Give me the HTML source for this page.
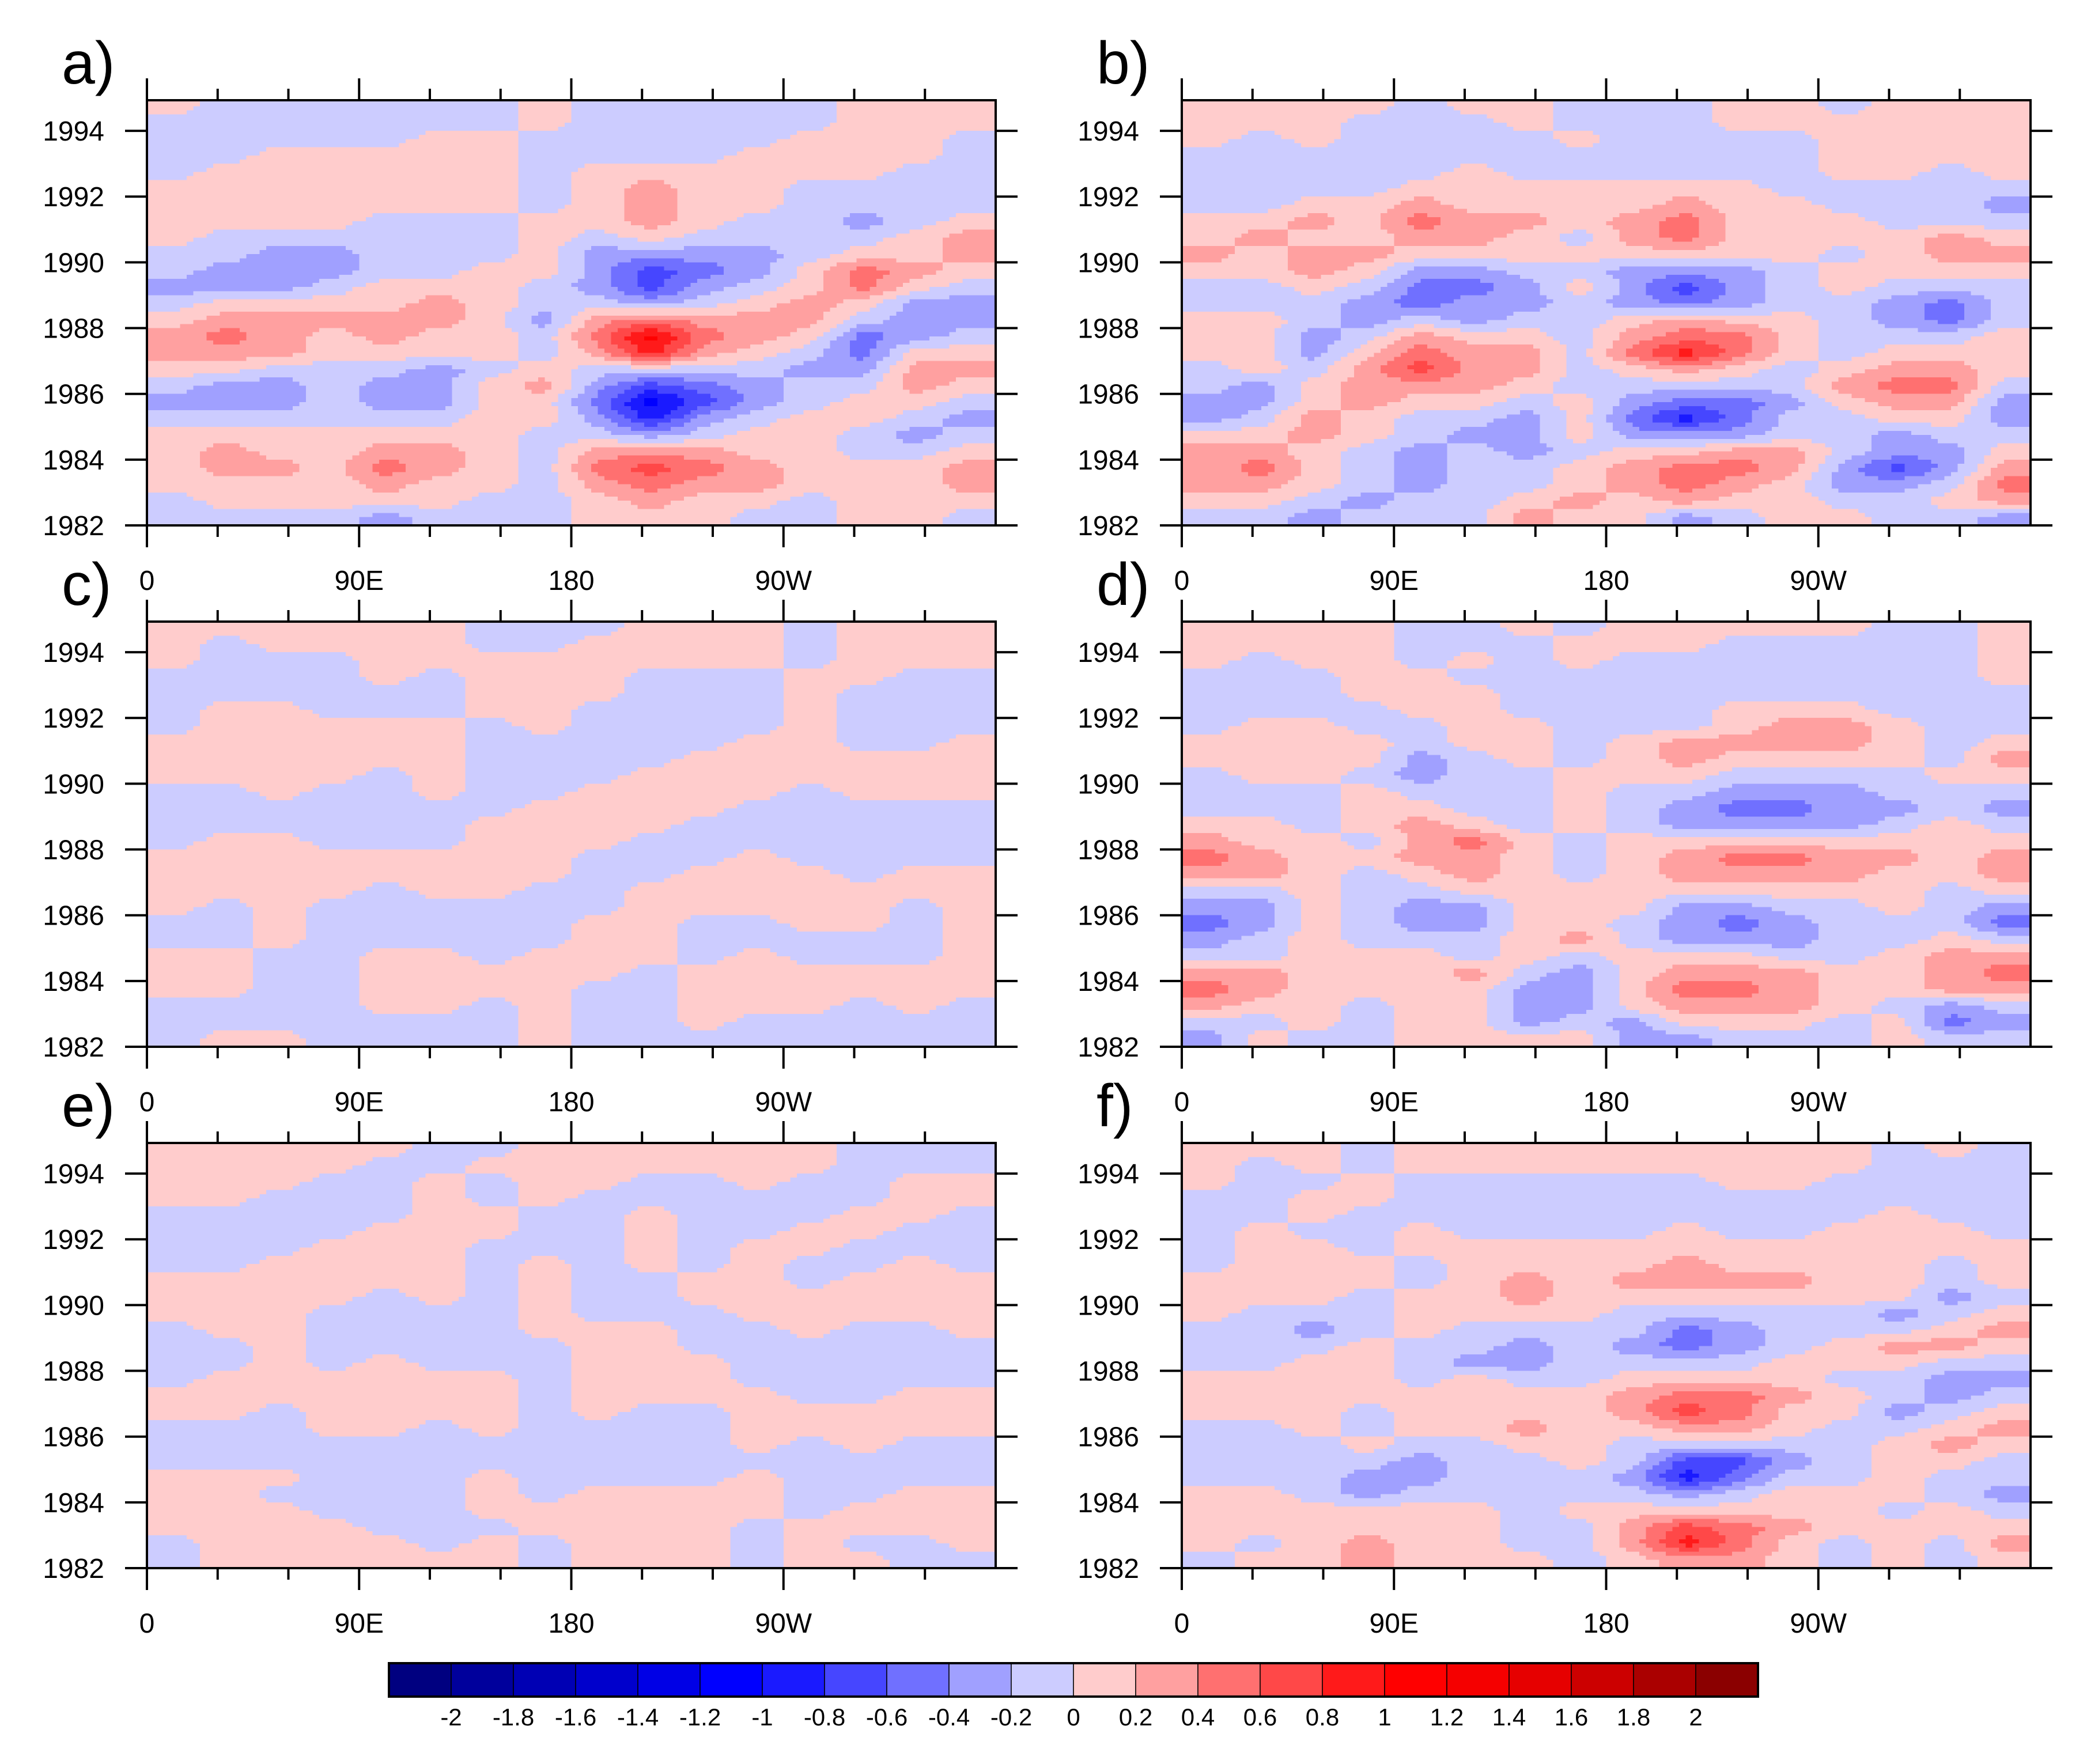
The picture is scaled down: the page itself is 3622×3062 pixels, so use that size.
<!DOCTYPE html>
<html><head><meta charset="utf-8"><style>
html,body{margin:0;padding:0;background:#fff}
svg{display:block}
text{font-family:"Liberation Sans",Arial,sans-serif;fill:#000}
</style></head><body>
<svg id="fig" width="3622" height="3062" viewBox="0 0 3622 3062" xmlns="http://www.w3.org/2000/svg">
<rect width="3622" height="3062" fill="#fff"/>
</svg>
<script>
// ---- data (values in tenths; e.g. 3 = 0.3) rows top (1994.75) -> bottom (1982.25), cols 0..360 lon in 22.5 deg bins
const lonTicks=[0,90,180,270];
const lonLabels=['0','90E','180','90W'];
const yearTicks=[1982,1984,1986,1988,1990,1992,1994];
const cbLabels=['-2','-1.8','-1.6','-1.4','-1.2','-1','-0.8','-0.6','-0.4','-0.2','0','0.2','0.4','0.6','0.8','1','1.2','1.4','1.6','1.8','2'];
const posColors=['#ffcccc','#ffa0a0','#ff7070','#ff4848','#ff1a1a','#ff0000','#f50000','#e60000','#cc0000','#aa0000','#8b0000'];
const negColors=['#ccccff','#a0a0ff','#7070ff','#4646ff','#1a1aff','#0000ff','#0000e6','#0000cc','#0000b4','#00009c','#000080'];
const aValues=[
[1,-1,-1,-1,-1,-1,-1,1,-1,-1,-1,-1,-1,1,1,1],
[-1,-1,-1,-1,-1,-1,-1,1,-1,-1,-1,-1,-1,1,1,1],
[-1,-1,-1,-1,-1,1,1,-1,-1,-1,-1,-1,1,1,1,-1],
[-1,-1,1,1,1,1,1,-1,-1,-1,-1,1,1,1,1,-1],
[-1,1,1,1,1,1,1,-1,1,1,1,1,1,1,-1,-1],
[1,1,1,1,1,1,1,-1,1,3,1,1,-1,-1,-1,-1],
[1,1,1,1,1,1,1,-1,1,3,1,1,-1,-1,-1,-1],
[1,1,1,1,-1,-1,-1,1,1,3,1,-1,-1,-3,-1,1],
[1,-1,-1,-1,-1,-1,-1,1,-1,1,-1,-1,-1,-1,1,3],
[-1,-1,-3,-3,-1,-1,-1,1,-3,-3,-3,-3,-1,1,1,3],
[-1,-3,-3,-3,-1,-1,1,1,-3,-7,-5,-3,1,5,3,1],
[-3,-3,-3,-1,1,1,1,-1,-3,-7,-3,-1,1,5,1,-1],
[-1,1,1,1,1,3,1,-1,-1,-3,-1,1,3,1,-3,-3],
[1,3,3,3,3,3,1,-3,3,5,3,3,3,-1,-3,-3],
[3,5,3,1,3,1,1,-1,5,11,5,3,1,-5,-3,-1],
[3,3,3,1,1,1,1,-1,3,9,3,1,-1,-5,1,1],
[1,1,-1,-1,-1,-3,-1,1,-1,-1,-1,-1,-3,-3,3,3],
[-1,-3,-3,-1,-3,-3,1,3,-3,-7,-5,-3,-1,-1,3,1],
[-3,-3,-3,-1,-3,-3,1,1,-5,-11,-7,-3,-1,1,1,-1],
[-1,-1,-1,-1,-1,-1,1,1,-3,-9,-3,-1,1,1,-1,-3],
[1,1,1,1,1,1,1,-1,-1,-3,-1,1,1,-1,-3,-1],
[1,3,1,1,3,3,1,-1,3,3,3,1,1,-1,-1,1],
[1,3,3,1,5,3,1,-1,5,7,5,3,1,1,1,3],
[1,1,1,1,3,1,1,-1,3,5,3,3,1,1,1,3],
[-1,1,1,1,1,1,-1,-1,1,3,1,1,-1,1,1,1],
[-1,-1,-1,-1,-3,-1,-1,-1,1,1,1,-1,-1,1,1,-1]];
const bValues=[
[1,1,1,1,-1,1,1,-1,-1,-1,1,1,-1,1,1,1],
[1,1,1,-1,-1,-1,1,-1,-1,-1,1,1,1,1,1,1],
[1,-1,1,-1,-1,-1,-1,1,-1,-1,-1,-1,1,1,1,1],
[-1,-1,-1,-1,-1,-1,-1,-1,-1,-1,-1,-1,1,1,1,1],
[-1,-1,-1,-1,-1,1,-1,-1,-1,-1,-1,-1,1,1,-1,1],
[-1,-1,-1,-1,1,1,1,1,1,1,1,-1,-1,-1,-1,-1],
[-1,-1,1,1,3,1,1,1,1,3,1,1,-1,-1,-1,-3],
[1,1,3,1,5,3,3,1,3,5,1,1,1,-1,-1,-1],
[1,3,1,1,3,3,1,-1,3,5,1,1,1,1,3,1],
[3,1,3,3,1,1,1,1,1,1,1,1,-1,1,3,3],
[1,1,3,1,-3,-3,-1,-1,-3,-3,-3,-1,1,1,1,1],
[-1,-1,1,-1,-5,-5,-3,1,-3,-7,-3,-1,1,-1,-1,-1],
[-1,-1,-1,-3,-5,-3,-3,-1,-3,-5,-3,-1,-1,-3,-5,-1],
[1,1,-1,-3,-1,-3,-1,-1,1,3,1,1,-1,-3,-5,-1],
[1,1,-3,-1,3,1,1,-1,3,5,5,1,-1,-1,-1,1],
[1,1,-3,1,5,3,3,-1,5,9,5,1,-1,1,1,1],
[-1,1,-1,3,7,3,3,-1,1,3,1,-1,1,3,3,1],
[-1,-3,1,3,3,3,1,-1,-1,-1,-1,-1,3,5,5,-1],
[-3,-3,1,3,1,1,-1,1,-3,-5,-5,-3,1,3,3,-3],
[-3,-1,3,1,-1,-1,-3,1,-5,-9,-5,-1,-1,1,1,-3],
[1,1,3,1,-1,-3,-3,1,-3,-3,-3,-1,-1,-3,-1,-1],
[3,3,1,-1,-3,-1,-3,-1,1,1,3,3,-1,-3,-3,1],
[3,5,1,-1,-3,-1,-1,1,3,5,5,3,-3,-7,-3,3],
[3,3,1,-1,-3,-1,-1,1,3,5,3,1,-3,-3,-1,5],
[1,1,-1,-3,-1,-1,1,3,1,3,1,1,-1,-1,1,3],
[-1,-1,-3,-1,-1,-1,3,1,1,-3,-1,1,1,-1,-1,-3]];
const cValues=[
[1,1,1,1,1,1,-1,-1,-1,1,1,1,-1,1,1,1],
[1,-1,1,1,1,1,-1,-1,1,1,1,1,-1,1,1,1],
[1,-1,-1,-1,1,1,1,1,1,1,1,1,-1,1,1,1],
[-1,-1,-1,-1,1,-1,1,1,1,-1,-1,-1,1,1,-1,-1],
[-1,-1,-1,-1,-1,-1,1,1,1,-1,-1,-1,1,-1,-1,-1],
[-1,1,1,-1,-1,-1,1,1,-1,-1,-1,-1,1,-1,-1,-1],
[-1,1,1,1,1,1,-1,1,-1,-1,-1,-1,1,-1,-1,-1],
[1,1,1,1,1,1,-1,-1,-1,-1,-1,1,1,-1,-1,1],
[1,1,1,1,1,1,-1,-1,-1,-1,1,1,1,1,1,1],
[1,1,1,1,-1,1,-1,-1,-1,1,1,1,1,1,1,1],
[-1,-1,1,-1,-1,1,-1,-1,1,1,1,1,-1,1,1,1],
[-1,-1,-1,-1,-1,-1,-1,1,1,1,1,-1,-1,-1,-1,-1],
[-1,-1,-1,-1,-1,-1,1,1,1,1,-1,-1,-1,-1,-1,-1],
[-1,1,1,-1,-1,-1,1,1,1,-1,-1,-1,-1,-1,-1,-1],
[1,1,1,1,1,1,1,1,-1,-1,-1,1,-1,-1,-1,-1],
[1,1,1,1,1,1,1,1,-1,-1,1,1,1,-1,1,1],
[1,1,1,1,-1,1,1,-1,-1,1,1,1,1,1,1,1],
[1,-1,1,-1,-1,-1,-1,-1,-1,1,1,1,1,1,-1,1],
[-1,-1,1,-1,-1,-1,-1,-1,1,1,-1,-1,1,1,-1,1],
[-1,-1,1,-1,-1,-1,-1,-1,1,1,-1,-1,-1,-1,-1,1],
[1,1,-1,-1,1,1,-1,1,1,1,-1,1,-1,-1,-1,1],
[1,1,-1,-1,1,1,1,1,1,-1,1,1,1,1,1,1],
[1,1,-1,-1,1,1,1,1,-1,-1,1,1,1,1,1,1],
[-1,-1,-1,-1,1,1,-1,1,-1,-1,1,1,1,-1,1,-1],
[-1,-1,-1,-1,-1,-1,-1,1,-1,-1,1,-1,-1,-1,-1,-1],
[-1,1,1,-1,-1,-1,-1,1,-1,-1,-1,-1,-1,-1,-1,-1]];
const dValues=[
[1,1,1,1,-1,-1,1,-1,1,1,1,1,1,-1,-1,1],
[1,1,1,1,-1,-1,-1,1,1,1,-1,-1,-1,-1,-1,1],
[1,-1,1,1,-1,1,-1,1,-1,-1,-1,-1,-1,-1,-1,1],
[-1,-1,-1,1,1,-1,-1,-1,-1,-1,-1,-1,-1,-1,-1,1],
[-1,-1,-1,1,1,1,-1,-1,-1,-1,-1,-1,-1,-1,-1,-1],
[-1,-1,-1,-1,1,1,-1,-1,-1,-1,1,1,1,-1,-1,-1],
[-1,1,1,-1,-1,1,1,-1,-1,-1,1,3,3,1,-1,-1],
[1,1,1,1,-1,1,1,-1,1,3,3,3,3,1,-1,1],
[1,1,1,1,-3,-1,1,-1,1,3,1,1,1,1,-1,3],
[-1,1,1,-1,-3,-1,-1,1,1,1,-1,-1,-1,-1,1,1],
[-1,-1,-1,1,-1,-1,-1,1,-1,-1,-3,-3,-3,-1,-1,-1],
[-1,-1,-1,1,1,-1,-1,1,-1,-3,-5,-5,-3,-3,-1,-3],
[1,1,-1,1,3,1,-1,1,-1,-3,-3,-3,-3,-1,1,-1],
[3,1,1,-1,3,5,1,-1,1,1,1,1,1,1,1,1],
[5,3,1,1,3,3,1,-1,1,3,5,5,3,3,1,3],
[3,3,1,-1,1,3,1,-1,1,3,3,3,3,1,1,3],
[-1,-1,1,-1,-1,1,1,1,1,1,1,1,1,1,-1,1],
[-3,-3,1,-1,-3,-3,1,1,1,-3,-3,-1,-1,1,-1,-3],
[-5,-3,1,-1,-3,-3,1,1,-1,-3,-5,-3,-1,-1,-1,-5],
[-3,-1,1,-1,-1,-1,1,3,-1,-3,-3,-3,-1,-1,1,-1],
[-1,-1,1,1,1,-1,1,-1,1,1,1,-1,-1,1,3,3],
[3,3,1,1,1,3,-1,-3,1,3,3,3,1,1,3,5],
[5,3,1,1,1,1,-3,-3,1,5,5,3,1,1,3,3],
[3,1,1,-1,1,1,-3,-3,1,3,3,3,1,-1,-3,-1],
[-1,-1,1,-1,1,1,-3,-1,-3,1,1,1,-1,1,-5,-3],
[-3,1,-1,-1,1,1,1,1,-3,-3,-1,-1,-1,1,-1,-1]];
const eValues=[
[1,1,1,1,1,-1,-1,1,1,1,1,1,1,-1,-1,-1],
[1,1,1,1,-1,-1,1,1,1,1,1,1,1,-1,-1,-1],
[1,1,1,-1,-1,1,-1,1,1,-1,-1,1,-1,-1,1,1],
[1,1,-1,-1,-1,1,-1,1,-1,-1,-1,-1,-1,-1,1,1],
[-1,-1,-1,-1,-1,1,1,-1,-1,1,-1,-1,-1,1,1,-1],
[-1,-1,-1,-1,1,1,1,-1,-1,1,-1,-1,1,1,-1,-1],
[-1,-1,-1,1,1,1,-1,-1,-1,1,-1,1,1,-1,-1,-1],
[-1,-1,1,1,1,1,-1,1,-1,1,-1,1,-1,-1,1,-1],
[1,1,1,1,1,1,-1,1,-1,-1,1,1,-1,1,1,1],
[1,1,1,1,-1,1,-1,1,-1,-1,1,1,1,1,1,1],
[1,1,1,-1,-1,-1,-1,1,-1,-1,-1,1,1,1,1,1],
[-1,1,1,-1,-1,-1,-1,1,1,1,-1,-1,1,-1,-1,1],
[-1,-1,1,-1,-1,-1,-1,-1,1,1,-1,-1,-1,-1,-1,-1],
[-1,-1,1,-1,1,-1,-1,-1,1,1,1,-1,-1,-1,-1,-1],
[-1,1,1,1,1,1,1,-1,1,1,1,-1,-1,-1,-1,-1],
[1,1,1,1,1,1,1,-1,1,1,1,1,-1,-1,1,1],
[1,1,-1,1,1,1,1,-1,1,-1,-1,1,1,1,1,1],
[-1,-1,-1,1,1,-1,1,-1,-1,-1,-1,1,1,1,1,1],
[-1,-1,-1,-1,-1,-1,-1,-1,-1,-1,-1,1,-1,1,-1,-1],
[-1,-1,-1,-1,-1,-1,-1,-1,-1,-1,-1,-1,-1,-1,-1,-1],
[1,1,1,-1,-1,-1,1,-1,-1,-1,-1,1,-1,-1,-1,-1],
[1,1,-1,-1,-1,-1,1,-1,1,1,1,1,-1,-1,1,1],
[1,1,1,-1,-1,-1,1,1,1,1,1,1,-1,1,1,1],
[1,1,1,1,-1,-1,-1,1,1,1,1,-1,1,1,1,1],
[-1,1,1,1,1,-1,1,-1,1,1,1,-1,1,-1,-1,1],
[-1,1,1,1,1,1,1,-1,1,1,1,-1,1,1,-1,-1]];
const fValues=[
[1,1,1,-1,1,1,1,1,1,1,1,1,1,-1,1,-1],
[1,-1,1,-1,1,1,1,1,1,1,1,1,1,-1,-1,-1],
[1,-1,-1,1,-1,-1,-1,-1,-1,-1,1,1,-1,-1,-1,-1],
[-1,-1,1,1,-1,-1,-1,-1,-1,-1,-1,-1,-1,-1,-1,-1],
[-1,-1,1,-1,-1,-1,-1,-1,-1,-1,-1,-1,-1,1,-1,-1],
[-1,1,-1,-1,1,-1,-1,-1,-1,1,-1,-1,1,1,1,-1],
[-1,1,1,-1,1,1,1,1,1,1,1,1,1,1,1,1],
[-1,1,1,1,-1,1,1,1,1,3,1,1,1,1,-1,1],
[1,1,1,1,-1,1,3,1,3,3,3,3,1,1,-1,1],
[1,1,1,-1,1,1,3,1,1,1,1,1,1,1,-3,-1],
[1,-1,-1,-1,1,1,1,1,-1,-1,-1,-1,-1,-3,-1,1],
[-1,-1,-3,-1,1,-1,-1,-1,-1,-5,-3,-1,-1,-1,1,3],
[-1,-1,-1,1,-1,-1,-3,-1,-3,-5,-3,-1,1,3,3,1],
[-1,-1,1,1,-1,-3,-3,-1,-1,-1,-1,1,1,1,-1,-1],
[1,1,1,1,-1,1,-1,-1,1,1,1,1,-1,-1,-3,-3],
[1,1,1,1,1,1,1,1,3,5,5,3,1,-1,-3,-1],
[1,1,1,-1,1,1,1,1,3,7,5,1,1,-3,-1,1],
[-1,-1,1,-1,1,1,3,1,1,3,3,1,-1,-1,1,3],
[-1,-1,-1,1,-1,-1,1,1,-1,-1,-1,-1,-1,1,3,1],
[-1,-1,-1,-1,-3,-1,-1,1,-1,-7,-7,-3,-1,1,1,-1],
[-1,-1,-1,-3,-3,-1,-1,-1,-3,-9,-5,-1,-1,1,-1,-1],
[1,1,-1,-3,-1,-1,-1,-1,-1,-3,-1,1,1,1,-1,-3],
[1,1,1,1,1,1,-1,1,1,1,1,1,1,-1,1,-1],
[1,1,1,1,1,1,-1,-1,3,7,5,3,1,1,1,1],
[1,-1,1,3,1,1,-1,-1,3,9,5,1,-1,1,-1,3],
[-1,1,1,3,1,1,1,-1,1,3,3,1,-1,1,-1,1]];

const NS='http://www.w3.org/2000/svg';
const svg=document.getElementById('fig');
function mk(tag,attrs,parent){const e=document.createElementNS(NS,tag);for(const k in attrs)e.setAttribute(k,attrs[k]);(parent||svg).appendChild(e);return e;}

const YEAR0=1982, YEAR1=1994.93;
function colorOf(v){const x=v/10;if(x>=0){return posColors[Math.min(Math.floor(x/0.2+1e-9),10)];}return negColors[Math.min(Math.floor(-x/0.2-1e-9),10)];}

const panels=[
 {id:'a',vals:aValues,L:255,T:174},
 {id:'b',vals:bValues,L:2051,T:174},
 {id:'c',vals:cValues,L:255,T:1079},
 {id:'d',vals:dValues,L:2051,T:1079},
 {id:'e',vals:eValues,L:255,T:1984},
 {id:'f',vals:fValues,L:2051,T:1984}];
const W=1473,H=738;

panels.forEach((p,pi)=>{
  const g=mk('g',{});
  
  
  const xS=lon=>p.L+lon/360*W;
  const yS=yr=>p.T+H-(yr-YEAR0)/(YEAR1-YEAR0)*H;
  const cp=mk('clipPath',{id:'clip'+p.id},g);
  mk('rect',{x:p.L,y:p.T,width:W,height:H},cp);
  const field=mk('g',{'clip-path':'url(#clip'+p.id+')','shape-rendering':'crispEdges'},g);
  
  
  const vals=p.vals, nr=vals.length, nc=vals[0].length;
  const SX=8, SY=4;
  const get=(r,c)=>vals[Math.max(0,Math.min(nr-1,r))][Math.max(0,Math.min(nc-1,c))];
  for(let j=0;j<nr*SY;j++){
    const rp=(j+0.5)/SY-0.5; const r0=Math.floor(rp), fr=rp-r0;
    const yTop=yS(1995-j*0.5/SY), yBot=yS(1995-(j+1)*0.5/SY);
    let runStart=0, runCol=null;
    const total=nc*SX;
    for(let k=0;k<=total;k++){
      let col=null;
      if(k<total){
        const cpos=(k+0.5)/SX-0.5; const c0=Math.floor(cpos), fc=cpos-c0;
        const v=(get(r0,c0)*(1-fc)+get(r0,c0+1)*fc)*(1-fr)+(get(r0+1,c0)*(1-fc)+get(r0+1,c0+1)*fc)*fr;
        col=colorOf(v);
      }
      if(col!==runCol){
        if(runCol!==null){
          const x0=xS(runStart/total*360), x1=xS(k/total*360);
          const rc=mk('rect',{x:x0.toFixed(1),y:yTop.toFixed(1),width:(x1-x0+0.8).toFixed(1),height:(yBot-yTop+0.8).toFixed(1),fill:runCol},field);
          
          
        }
        runStart=k; runCol=col;
      }
    }
  }
  // frame
  const fr=mk('rect',{x:p.L,y:p.T,width:W,height:H,fill:'none',stroke:'#000','stroke-width':4},g);
  
  
  // y ticks and labels
  yearTicks.forEach(yr=>{
    const y=yS(yr);
    const t1=mk('line',{x1:p.L-38,x2:p.L,y1:y,y2:y,stroke:'#000','stroke-width':4},g);
    
    
    const t2=mk('line',{x1:p.L+W,x2:p.L+W+38,y1:y,y2:y,stroke:'#000','stroke-width':4},g);
    
    
    const tl=mk('text',{x:p.L-74,y:y+17,'font-size':48,'text-anchor':'end'},g);
    tl.textContent=String(yr);
    
    
  });
  // x ticks
  for(let lon=0;lon<360;lon+=30){
    const x=xS(lon), major=(lon%90===0);
    const len=major?38:20;
    const tt=mk('line',{x1:x,x2:x,y1:p.T-len,y2:p.T,stroke:'#000','stroke-width':4},g);
    
    
    const tb=mk('line',{x1:x,x2:x,y1:p.T+H,y2:p.T+H+len,stroke:'#000','stroke-width':4},g);
    
    
  }
  lonTicks.forEach((lon,i)=>{
    const xl=mk('text',{x:xS(lon),y:p.T+H+112,'font-size':48,'text-anchor':'middle'},g);
    xl.textContent=lonLabels[i];
    
    
  });
  const pl=mk('text',{x:p.L-148,y:p.T-29,'font-size':104},g);
  pl.textContent=p.id+')';
  
  
});

// colorbar
const cb=mk('g',{});


const cbX=675, cbY=2887, cbW=2376, cbH=58;
const allColors=negColors.slice().reverse().concat(posColors);
const bw=cbW/allColors.length;
allColors.forEach((c,i)=>{
  const r=mk('rect',{x:cbX+i*bw,y:cbY,width:bw,height:cbH,fill:c,stroke:'#000','stroke-width':1.5},cb);
  
  
});
mk('rect',{x:cbX,y:cbY,width:cbW,height:cbH,fill:'none',stroke:'#000','stroke-width':4},cb);
cbLabels.forEach((l,i)=>{
  const t=mk('text',{x:cbX+(i+1)*bw,y:2995,'font-size':42,'text-anchor':'middle'},cb);
  t.textContent=l;
  
  
});
</script>
</body></html>
